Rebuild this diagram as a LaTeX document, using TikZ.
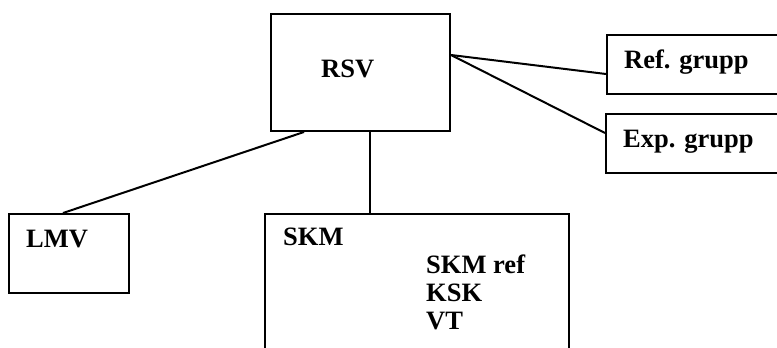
\documentclass[tikz,border=0pt]{standalone}
\usepackage{fontspec}
\setmainfont{Liberation Serif}
\usetikzlibrary{calc}
\begin{document}
\begin{tikzpicture}[x=1pt,y=-1pt,
  box/.style={draw=black, line width=2pt, inner sep=0pt, anchor=north west},
  lbl/.style={inner sep=0pt, anchor=base west, font=\bfseries\fontsize{26.5}{28}\selectfont},
  link/.style={draw=black, line width=2pt}]
\useasboundingbox (0,0) rectangle (777,348);
\clip (0,0) rectangle (777,348);
\fill[white] (0,0) rectangle (777,348);
% boxes
\node[box, minimum width=179pt, minimum height=117pt] (rsv) at (270,13) {};
\node[box, minimum width=250pt, minimum height=59pt] (ref) at (606,34) {};
\node[box, minimum width=250pt, minimum height=59pt] (exp) at (605,113) {};
\node[box, minimum width=120pt, minimum height=79pt] (lmv) at (8,213) {};
\node[box, minimum width=304pt, minimum height=200pt] (skm) at (264,213) {};
% labels
\node[lbl] (trsv) at (321,77) {RSV};
\node[lbl] (tref) at (624,68) {Ref. grupp};
\node[lbl] (texp) at (623,147) {Exp. grupp};
\node[lbl] (tlmv) at (26,247) {LMV};
\node[lbl] (tskm) at (283,245) {SKM};
\node[lbl] (tskmref) at (426,273) {SKM ref};
\node[lbl] (tksk) at (426,301) {KSK};
\node[lbl] (tvt) at (426,329) {VT};
% connectors
\coordinate (rs) at ($(rsv.east)+(0,-17.5)$);
\draw[link] (rs) -- ($(ref.west)+(0,9.5)$);
\draw[link] (rs) -- ($(exp.west)+(0,-10.5)$);
\coordinate (rb) at ($(rsv.south)+(9.5,0)$);
\draw[link] (rb) -- (rb |- skm.north);
\draw[link] ($(rsv.south)+(-56.5,0)$) -- ($(lmv.north)+(-6,0)$);
\end{tikzpicture}
\end{document}
